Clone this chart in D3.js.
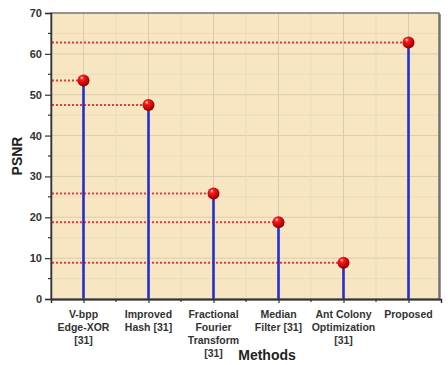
<!DOCTYPE html>
<html><head><meta charset="utf-8">
<script src="https://cdn.jsdelivr.net/npm/d3@7"></script>
<style>body{margin:0;background:#fff}svg{display:block}</style>
</head><body>
<svg id="c" width="448" height="365"></svg>
<script>
const categories = [
  ["V-bpp","Edge-XOR","[31]"],
  ["Improved","Hash [31]"],
  ["Fractional","Fourier","Transform","[31]"],
  ["Median","Filter [31]"],
  ["Ant Colony","Optimization","[31]"],
  ["Proposed"]
];
const psnr = [53.5, 47.5, 25.8, 18.8, 8.9, 62.8];
const yTicks = [0,10,20,30,40,50,60,70];

const svg = d3.select("#c");
const m = {l:51, t:13, r:439, b:299};
const x = d3.scaleLinear().domain([0.5, 6.5]).range([m.l, m.r+2]);
const y = d3.scaleLinear().domain([0,70]).range([m.b, m.t]);

const defs = svg.append("defs");
const g = defs.append("radialGradient").attr("id","ball").attr("cx","40%").attr("cy","35%").attr("r","65%").attr("fx","35%").attr("fy","28%");
g.append("stop").attr("offset","0%").attr("stop-color","#ffd0d0");
g.append("stop").attr("offset","25%").attr("stop-color","#f02020");
g.append("stop").attr("offset","75%").attr("stop-color","#c80000");
g.append("stop").attr("offset","100%").attr("stop-color","#800000");

// shadow frame
svg.append("rect").attr("x",m.l+1).attr("y",m.t+1).attr("width",m.r-m.l+1).attr("height",m.b-m.t+1).attr("fill","#999");
svg.append("rect").attr("x",m.l).attr("y",m.t).attr("width",m.r-m.l).attr("height",m.b-m.t).attr("fill","#F8E6C2");

// grid
const minorY = d3.range(5,70,10);
svg.append("g").selectAll("line").data(minorY).join("line")
  .attr("x1",m.l).attr("x2",m.r).attr("y1",d=>y(d)).attr("y2",d=>y(d))
  .attr("stroke","#E9DCC0").attr("stroke-width",1);
svg.append("g").selectAll("line").data(yTicks.slice(1,-1)).join("line")
  .attr("x1",m.l).attr("x2",m.r).attr("y1",d=>y(d)).attr("y2",d=>y(d))
  .attr("stroke","#D9CCAE").attr("stroke-width",1);
const idx = d3.range(1,7);
svg.append("g").selectAll("line").data(d3.range(1.5,6.5,1)).join("line")
  .attr("x1",d=>x(d)).attr("x2",d=>x(d)).attr("y1",m.t).attr("y2",m.b)
  .attr("stroke","#E9DCC0").attr("stroke-width",1);
svg.append("g").selectAll("line").data(idx).join("line")
  .attr("x1",d=>x(d)).attr("x2",d=>x(d)).attr("y1",m.t).attr("y2",m.b)
  .attr("stroke","#D9CCAE").attr("stroke-width",1);

// dotted reference lines
svg.append("g").selectAll("line").data(psnr).join("line")
  .attr("x1",m.l+1).attr("x2",(d,i)=>x(i+1)).attr("y1",d=>y(d)).attr("y2",d=>y(d))
  .attr("stroke","#E8383A").attr("stroke-width",2).attr("stroke-dasharray","2,2");

// stems
svg.append("g").selectAll("line").data(psnr).join("line")
  .attr("x1",(d,i)=>x(i+1)).attr("x2",(d,i)=>x(i+1)).attr("y1",y(0)).attr("y2",d=>y(d))
  .attr("stroke","#2030D0").attr("stroke-width",2.6);

// balls
svg.append("g").selectAll("circle").data(psnr).join("circle")
  .attr("cx",(d,i)=>x(i+1)).attr("cy",d=>y(d)).attr("r",6)
  .attr("fill","url(#ball)");

// frame
svg.append("rect").attr("x",m.l).attr("y",m.t).attr("width",m.r-m.l).attr("height",m.b-m.t)
  .attr("fill","none").attr("stroke","#555").attr("stroke-width",1.2);

// y axis
const ya = svg.append("g").attr("transform",`translate(${m.l},0)`)
  .call(d3.axisLeft(y).tickValues(yTicks).tickSize(6).tickPadding(3));
ya.select(".domain").attr("stroke","#333").attr("stroke-width",1.5);
ya.selectAll(".tick line").attr("stroke","#333").attr("stroke-width",1.2);
ya.selectAll("text").attr("font-family","Liberation Sans, Arial, sans-serif").attr("font-size",11).attr("font-weight","bold").attr("fill","#333");
svg.append("g").selectAll("line").data(minorY).join("line")
  .attr("x1",m.l-3).attr("x2",m.l).attr("y1",d=>y(d)).attr("y2",d=>y(d)).attr("stroke","#333").attr("stroke-width",1.2);

// x axis
const xa = svg.append("g").attr("transform",`translate(0,${m.b})`)
  .call(d3.axisBottom(x).tickValues(idx).tickSize(4).tickFormat(""));
xa.select(".domain").attr("stroke","#333").attr("stroke-width",1.5);
xa.selectAll(".tick line").attr("stroke","#333").attr("stroke-width",1.2);
svg.append("g").selectAll("line").data(d3.range(1.5,6.5,1)).join("line")
  .attr("x1",d=>x(d)).attr("x2",d=>x(d)).attr("y1",m.b).attr("y2",m.b+3).attr("stroke","#333").attr("stroke-width",1.2);

// category labels
const cl = svg.append("g").attr("font-family","Liberation Sans, Arial, sans-serif").attr("font-size",10.5).attr("font-weight","bold").attr("fill","#333").attr("text-anchor","middle");
categories.forEach((lines,i)=>{
  lines.forEach((t,j)=>{
    cl.append("text").attr("x",x(i+1)).attr("y",318+j*13).text(t);
  });
});

// axis titles
svg.append("text").attr("x",267).attr("y",360).attr("text-anchor","middle")
  .attr("font-family","Liberation Sans, Arial, sans-serif").attr("font-size",14).attr("font-weight","bold").attr("fill","#222").text("Methods");
svg.append("text").attr("transform","translate(22,156) rotate(-90)").attr("text-anchor","middle")
  .attr("font-family","Liberation Sans, Arial, sans-serif").attr("font-size",14).attr("font-weight","bold").attr("fill","#222").text("PSNR");
</script>
</body></html>
